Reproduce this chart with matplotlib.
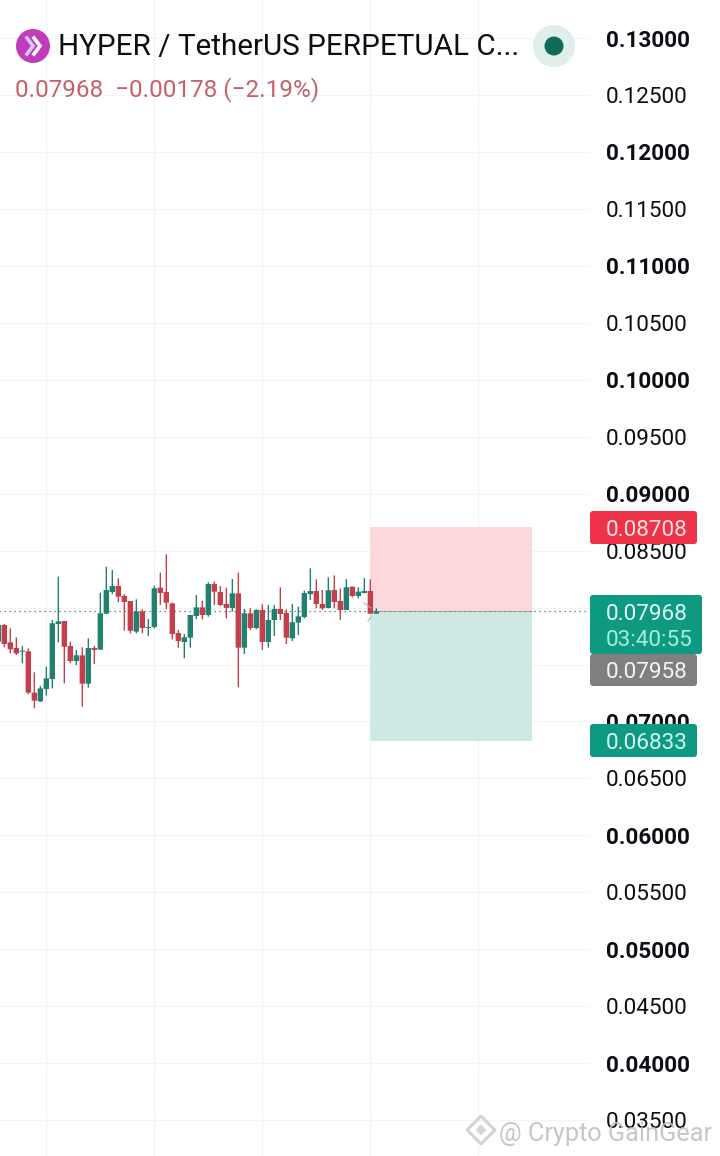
import numpy as np
import matplotlib
matplotlib.use('Agg')
import matplotlib.pyplot as plt
from matplotlib.patches import Circle, FancyBboxPatch, Rectangle

plt.rcParams['font.family'] = ['Roboto', 'DejaVu Sans']

# candles, prices in 1e-5 units
opens = [7701, 7847, 7695, 7645, 7613, 7616, 7253, 7177, 7285, 7373, 7856, 7882, 7663, 7531, 7581, 7332,
         7645, 7631, 7947, 8137, 8190, 8102, 8058, 7789, 7967, 7821, 7830, 8175, 8137, 8037, 7777, 7698,
         7736, 7926, 8002, 7935, 8207, 8137, 8032, 7997, 8125, 7648, 7950, 7821, 7979, 7698, 7891, 7988,
         7953, 7730, 7868, 7917, 8119, 8146, 8032, 7997, 8155, 8058, 7979, 8184, 8102, 8128, 8146, 7947]
highs = [7847, 7856, 7818, 7739, 7663, 7642, 7432, 7312, 7481, 7891, 8272, 7882, 7701, 7628, 7651, 7730,
         7663, 8131, 8359, 8330, 8257, 8119, 8058, 8073, 7985, 7900, 8193, 8307, 8468, 8043, 7803, 7768,
         7935, 8111, 8061, 8222, 8228, 8190, 8175, 8251, 8307, 7988, 7994, 7985, 8029, 8023, 8023, 8178,
         7985, 8032, 8008, 8149, 8345, 8248, 8155, 8266, 8283, 8169, 8251, 8184, 8178, 8260, 8248, 7994]
lows = [7701, 7651, 7598, 7584, 7511, 7241, 7116, 7171, 7227, 7291, 7695, 7335, 7511, 7496, 7130, 7297,
        7505, 7628, 7944, 8119, 8046, 7797, 7774, 7774, 7774, 7751, 7818, 8023, 7985, 7721, 7648, 7555,
        7648, 7897, 7897, 7920, 8023, 8014, 7906, 7964, 7300, 7593, 7803, 7809, 7628, 7648, 7751, 7891,
        7680, 7707, 7759, 7906, 8067, 7994, 7979, 7994, 7994, 7891, 7979, 8090, 8081, 8125, 7944, 7944]
closes = [7847, 7680, 7634, 7598, 7622, 7253, 7183, 7291, 7379, 7862, 7879, 7657, 7531, 7581, 7332, 7645,
          7628, 7950, 8155, 8190, 8096, 8049, 7797, 7967, 7821, 7830, 8169, 8128, 8043, 7768, 7707, 7739,
          7935, 8002, 7935, 8207, 8140, 8023, 7997, 8125, 7648, 7950, 7821, 7979, 7698, 7891, 7988, 7944,
          7736, 7871, 7923, 8128, 8146, 8032, 7994, 8152, 8049, 7979, 8178, 8102, 8140, 8146, 7947, 7968]

price_ticks = [0.035, 0.04, 0.045, 0.05, 0.055, 0.06, 0.065, 0.07, 0.075, 0.08, 0.085,
               0.09, 0.095, 0.10, 0.105, 0.11, 0.115, 0.12, 0.125, 0.13]
time_grid = [8, 26, 44, 62, 80]

last_price = 0.07968
stop_price = 0.08708
entry_price = 0.07968
target_price = 0.06833
position_start = 61.95
position_end = 89

GREEN = '#22806f'
RED = '#c43f4c'

opens = np.array(opens) / 1e5
highs = np.array(highs) / 1e5
lows = np.array(lows) / 1e5
closes = np.array(closes) / 1e5
xs = np.arange(len(opens))
colors = [GREEN if c >= o else RED for o, c in zip(opens, closes)]

fig = plt.figure(figsize=(7.2, 11.56), dpi=100)
ax = fig.add_axes([0, 0, 1, 1])
ax.set_xlim(0.278, 120.28)
ax.set_ylim(0.031852, 0.133345)
ax.set_axisbelow(True)

# grid stops before the price column
grid_end = 98.5
ax.hlines(price_ticks, 0, grid_end, color='#f4f4f4', lw=0.8, zorder=0)
ax.set_xticks(time_grid)
ax.tick_params(axis='x', length=0, labelbottom=False)
ax.grid(axis='x', color='#f2f2f2', lw=0.8)

ax.set_yticks(price_ticks)
ax.set_yticklabels(['%.5f' % p for p in price_ticks])
ax.yaxis.tick_right()
ax.tick_params(axis='y', length=0, pad=-82, labelsize=16.2, labelcolor='#0c0e14')
for p, lab in zip(price_ticks, ax.get_yticklabels()):
    lab.set_ha('left')
    if round(p * 1000) % 10 == 0:
        lab.set_fontweight('bold')
for s in ax.spines.values():
    s.set_visible(False)

# long position box
ax.add_patch(Rectangle((position_start, entry_price), position_end - position_start,
                       stop_price - entry_price, color='#fbd8dc', lw=0, zorder=1))
ax.add_patch(Rectangle((position_start, target_price), position_end - position_start,
                       entry_price - target_price, color='#cee9e3', lw=0, zorder=1))

ax.hlines(last_price, 0, grid_end, color='#3f6f66', lw=0.9, linestyles=(0, (1, 3)), zorder=2)
ax.hlines(entry_price, position_start, position_end, color='#9a9a9a', lw=0.6, zorder=2)

wicks = ax.vlines(xs, lows, highs, color=colors, lw=1.0, zorder=3)
wicks.set_snap(False)
bars = ax.bar(xs, closes - opens, bottom=opens, width=0.9, color=colors, lw=0, zorder=4)
for b in bars:
    b.set_snap(False)

# header, badges and watermark are placed in pixels
ui = fig.add_axes([0, 0, 1, 1])
ui.set_xlim(0, 720)
ui.set_ylim(1156, 0)
ui.axis('off')
ui.patch.set_alpha(0)

ui.plot([364, 371], [603, 608], color='#b0b0b0', lw=0.8)
ui.plot([368, 371], [621, 617], color='#b0b0b0', lw=0.8)

ui.add_patch(Circle((33, 46), 17, color='#c13cba', lw=0))
ui.plot([27, 33, 27], [38, 46, 54], color='#d9c8f5', lw=2.6, solid_joinstyle='miter')
ui.plot([34, 40, 34], [38, 46, 54], color='white', lw=2.6, solid_joinstyle='miter')
ui.text(58, 44, 'HYPER / TetherUS PERPETUAL C...', fontsize=21.3, color='#0c0e14', va='center_baseline', ha='left')
ui.text(15, 87, '0.07968  \u22120.00178 (\u22122.19%)', fontsize=17.5, color='#c4616a', va='center_baseline', ha='left')
ui.add_patch(Circle((554, 46), 21, color='#dff0ec', lw=0))
ui.add_patch(Circle((554, 46), 9.5, color='#0f6b58', lw=0))


def badge(x0, x1, y0, y1, color):
    ui.add_patch(FancyBboxPatch((x0 + 3, y0 + 3), x1 - x0 - 6, y1 - y0 - 6,
                                boxstyle='round,pad=3,rounding_size=3', color=color, lw=0))


badge(590, 697, 511, 544, '#ee3248')
badge(590, 702, 595, 654, '#0d9a80')
badge(590, 697, 654, 686, '#808080')
badge(590, 697, 724, 757, '#0d9a80')

label_font = dict(fontsize=16.2, va='center_baseline', ha='left')
ui.text(606, 527.5, '0.08708', color='#fde3e5', **label_font)
ui.text(606, 612, '0.07968', color='#e6fbf5', **label_font)
ui.text(606, 638, '03:40:55', color='#a5f0dd', **label_font)
ui.text(606, 670, '0.07958', color='#f5f5f5', **label_font)
ui.text(606, 741, '0.06833', color='#d8f8ef', **label_font)

# watermark
ui.text(499, 1132, '@ Crypto GainGear', fontsize=18.2, color='#bdbdbd', alpha=0.85, va='center_baseline', ha='left')
ui.scatter([481], [1130], marker='D', s=200, facecolor='none', edgecolor='#d4d4d4', lw=2.2)
ui.scatter([481], [1130], marker='D', s=30, facecolor='#d4d4d4', edgecolor='none')

fig.savefig('out.png', dpi=100)
